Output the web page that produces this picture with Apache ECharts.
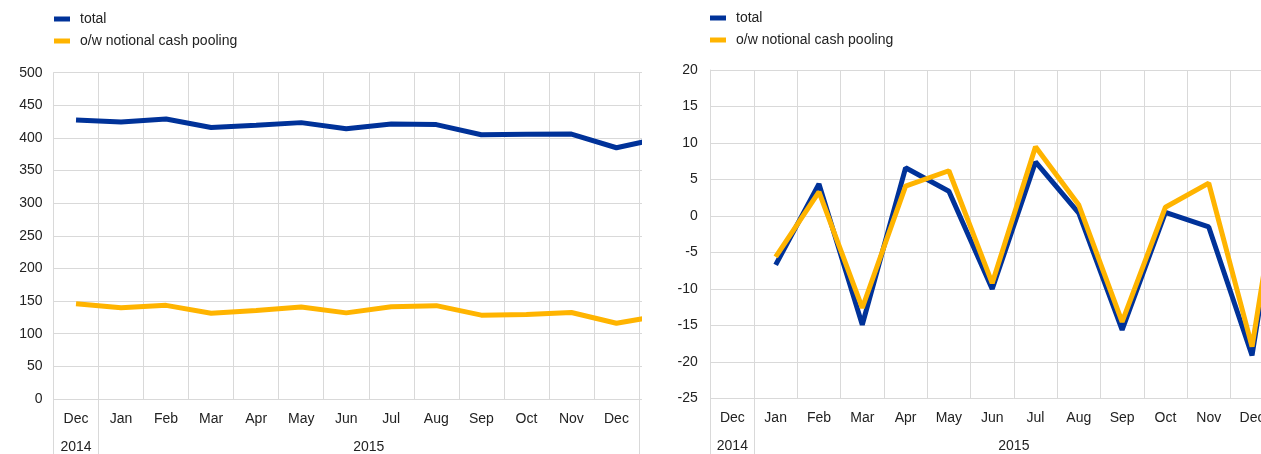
<!DOCTYPE html>
<html>
<head>
<meta charset="utf-8">
<script src="https://cdn.jsdelivr.net/npm/echarts@6/dist/echarts.min.js"></script>
<style>
html,body{margin:0;padding:0;background:#fff;overflow:hidden;}
#leftWrap{position:absolute;left:0;top:0;width:642px;height:454px;overflow:hidden;}
#rightWrap{position:absolute;left:642px;top:0;width:619px;height:454px;overflow:hidden;}
#left{position:absolute;left:0;top:0;width:684px;height:454px;}
#right{position:absolute;left:0;top:0;width:675px;height:454px;}
</style>
</head>
<body>
<div id="leftWrap"><div id="left"></div></div>
<div id="rightWrap"><div id="right"></div></div>
<script>
// Categories (last month, Jan 2016, falls outside the visible picture)
const months = ['Dec','Jan','Feb','Mar','Apr','May','Jun','Jul','Aug','Sep','Oct','Nov','Dec','Jan'];
const years = ['2014','','','','','','2015','','','','','','',''];
const seriesNames = ['total','o/w notional cash pooling'];

// Left panel: stocks (EUR billions)
const leftTotal = [427.5, 424.5, 429, 416, 419.5, 423.5, 414, 421.5, 420.5, 405, 405.5, 406, 385, 400];
const leftPooling = [146, 140, 143.5, 131.5, 135.5, 141, 132, 141.5, 143, 128.5, 129.5, 132.5, 116, 128];
const leftTicks = {min: 0, max: 500, interval: 50};

// Right panel: changes
const rightTotal = [null, -6.7, 4.4, -14.9, 6.6, 3.4, -10, 7.4, 0.4, -15.6, 0.5, -1.5, -19.1, 18];
const rightPooling = [null, -5.6, 3.3, -12.6, 4.1, 6.2, -9.2, 9.5, 1.5, -14.5, 1.2, 4.5, -17.9, 19];
const rightTicks = {min: -25, max: 20, interval: 5};

const BLUE = '#003299';
const YELLOW = '#ffb400';
const GRID = '#d9d9d9';
const TEXT = '#222222';
const FONT = 'Arial, "Liberation Sans", sans-serif';

function buildOption(cfg) {
  return {
    animation: false,
    textStyle: {fontFamily: FONT},
    color: [BLUE, YELLOW],
    legend: {
      orient: 'vertical',
      left: cfg.legendLeft,
      top: cfg.legendTop,
      padding: 0,
      itemWidth: 16,
      itemHeight: 5,
      itemGap: 8,
      icon: 'rect',
      selectedMode: false,
      textStyle: {color: TEXT, fontSize: 14, fontFamily: FONT, padding: [0,0,0,5]},
      data: seriesNames
    },
    grid: {left: cfg.gridLeft, right: 0, top: cfg.gridTop, height: cfg.gridHeight, containLabel: false},
    xAxis: [{
      type: 'category',
      data: months,
      boundaryGap: true,
      axisLine: {show: true, lineStyle: {color: GRID, width: 1}},
      axisTick: {show: false},
      axisLabel: {color: TEXT, fontSize: 14, fontFamily: FONT, margin: 13, interval: 0},
      splitLine: {show: true, lineStyle: {color: GRID, width: 1}}
    }, {
      type: 'category',
      data: years,
      position: 'bottom',
      boundaryGap: true,
      axisLine: {show: false},
      axisTick: {
        show: true,
        length: 60,
        lineStyle: {color: GRID, width: 1},
        interval: function (i) { return i === 0 || i === 1 || i === 13; }
      },
      axisLabel: {
        color: TEXT, fontSize: 14, fontFamily: FONT, margin: 41, interval: 0,
        formatter: function (v) { return v === '2015' ? '{s|' + v + '}' : v; },
        rich: {s: {color: TEXT, fontSize: 14, fontFamily: FONT, padding: [0,0,0,cfg.band]}}
      },
      splitLine: {show: false}
    }],
    yAxis: {
      type: 'value',
      min: cfg.ticks.min, max: cfg.ticks.max, interval: cfg.ticks.interval,
      axisLine: {show: true, lineStyle: {color: GRID}},
      axisTick: {show: false},
      axisLabel: {color: TEXT, fontSize: 14, fontFamily: FONT, margin: cfg.yMargin},
      splitLine: {show: true, lineStyle: {color: GRID, width: 1}}
    },
    series: [{
      name: seriesNames[0], type: 'line', data: cfg.a, symbol: 'none',
      lineStyle: {width: 5, color: BLUE}, itemStyle: {color: BLUE}, clip: true
    }, {
      name: seriesNames[1], type: 'line', data: cfg.b, symbol: 'none',
      lineStyle: {width: 5, color: YELLOW}, itemStyle: {color: YELLOW}, clip: true
    }]
  };
}

const leftChart = echarts.init(document.getElementById('left'), null, {renderer: 'canvas'});
leftChart.setOption(buildOption({
  legendLeft: 54, legendTop: 12,
  gridLeft: 53.5, gridTop: 72.7, gridHeight: 327,
  band: 45, ticks: leftTicks, yMargin: 11, a: leftTotal, b: leftPooling
}));

const rightChart = echarts.init(document.getElementById('right'), null, {renderer: 'canvas'});
rightChart.setOption(buildOption({
  legendLeft: 68, legendTop: 11,
  gridLeft: 68.7, gridTop: 70, gridHeight: 328.5,
  band: 43.3, ticks: rightTicks, yMargin: 13, a: rightTotal, b: rightPooling
}));
</script>
</body>
</html>
